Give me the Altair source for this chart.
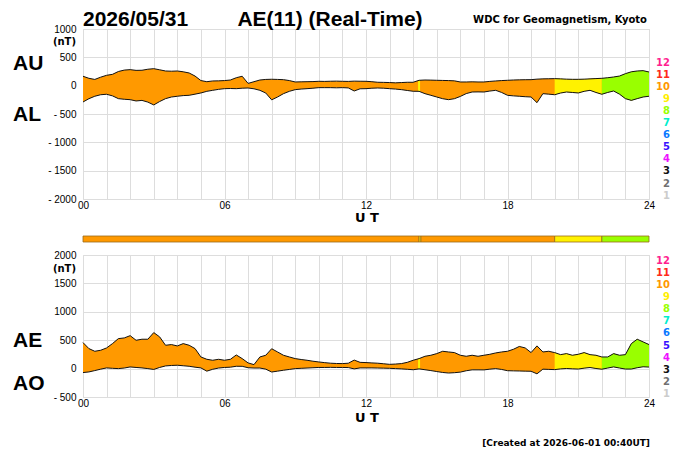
import altair as alt
import pandas as pd

# ---------------- data ----------------
STEP_MIN = 15
minutes = list(range(0, 24 * 60 + 1, STEP_MIN))
hours = [m / 60 for m in minutes]

AU = [166, 130, 110, 150, 183, 200, 250, 275,
      283, 270, 272, 290, 300, 280, 259, 255,
      259, 245, 224, 170, 90, 70, 83, 85,
      90, 100, 140, 166, 40, 70, 100, 110,
      113, 110, 106, 90, 65, 68, 70, 72,
      77, 75, 78, 80, 77, 75, 80, 78,
      77, 70, 60, 58, 55, 50, 55, 60,
      60, 95, 100, 98, 95, 92, 90, 85,
      65, 65, 68, 65, 65, 75, 83, 90,
      95, 100, 103, 105, 106, 115, 120, 122,
      124, 120, 115, 112, 112, 115, 120, 125,
      130, 140, 153, 170, 212, 245, 259, 265,
      241]
AL = [-288, -230, -187, -160, -152, -180, -229, -240,
      -247, -270, -260, -290, -340, -280, -229, -200,
      -187, -175, -170, -150, -129, -100, -82, -65,
      -53, -50, -53, -45, -41, -55, -82, -130,
      -250, -200, -141, -100, -70, -60, -53, -45,
      -35, -35, -35, -38, -35, -40, -94, -55,
      -53, -45, -41, -45, -53, -60, -70, -85,
      -99, -100, -141, -170, -200, -230, -247, -230,
      -190, -140, -112, -110, -112, -95, -82, -120,
      -170, -180, -187, -195, -200, -300, -141, -150,
      -160, -130, -112, -120, -129, -100, -82, -120,
      -152, -120, -94, -150, -229, -260, -229, -200,
      -187]
AE = [458, 352, 305, 323, 364, 440, 528, 540,
      580, 499, 517, 517, 634, 558, 411, 423,
      399, 440, 411, 352, 205, 164, 147, 164,
      147, 164, 240, 176, 100, 70, 205, 235,
      350, 293, 235, 205, 176, 160, 147, 130,
      117, 105, 95, 90, 88, 95, 150, 110,
      106, 100, 95, 85, 75, 80, 88, 110,
      147, 176, 217, 235, 264, 305, 293, 282,
      235, 217, 235, 217, 235, 252, 276, 293,
      305, 340, 390, 364, 282, 400, 293, 305,
      282, 246, 264, 235, 252, 282, 246, 235,
      205, 205, 264, 235, 246, 440, 517, 470,
      423]
AO = [-70, -59, -35, -10, 12, 5, 0, 10,
      29, 20, 12, 0, -15, 20, 47, 55,
      59, 50, 41, 25, 12, -45, -12, 10,
      20, 25, 41, 40, 15, 10, 10, -10,
      -60, -45, -29, -15, 0, 5, 10, 15,
      20, 20, 22, 20, 20, 18, -5, 12,
      12, 12, 10, 8, 5, 0, -5, -12,
      -20, -5, -20, -35, -52, -68, -78, -72,
      -62, -38, -22, -22, -23, -10, 0, -15,
      -37, -40, -42, -45, -47, -92, -10, -14,
      -18, -5, 2, -4, -8, 8, 19, 2,
      -11, 10, 30, 10, -8, -8, 15, 32,
      27]

# number of contributing stations per time segment
SEG_START = [0.0, 14.25, 14.33, 20.0, 22.0]
SEG_END = [14.25, 14.33, 20.0, 22.0, 24.0]
SEG_N = [10, 9, 10, 9, 8]

STATION_LABELS = ["12", "11", "10", "9", "8", "7", "6", "5", "4", "3", "2", "1"]
STATION_COLORS = ["#ff1f8f", "#ff2a1a", "#ff9900", "#ffee00", "#99ff00", "#00eecc",
                  "#0a78ff", "#3a10ff", "#ee10ff", "#111111", "#707070", "#cccccc"]
FILL = {10: "#ff9900", 9: "#fff200", 8: "#99ff00"}

Y_TOP_TICKS = [-2000, -1500, -1000, -500, 0, 500, 1000]
Y_BOT_TICKS = [-500, 0, 500, 1000, 1500, 2000]
HOUR_TICKS = list(range(0, 25))

df = pd.DataFrame({"t": hours, "AU": AU, "AL": AL, "AE": AE, "AO": AO})
seg = pd.DataFrame({"s": SEG_START, "e": SEG_END,
                    "c": [FILL[n] for n in SEG_N]})
ONE = pd.DataFrame({"k": [0]})

TF = "Liberation Sans"
SF = "DejaVu Sans"
W = 566
H_TOP = 170
H_BOT = 142

XLAB = "datum.value % 6 == 0 ? (datum.value < 10 ? '0' + datum.value : '' + datum.value) : ''"
YLAB = "datum.value < 0 ? '- ' + (-datum.value) : '' + datum.value"


def xaxis():
    return alt.Axis(values=HOUR_TICKS, labelExpr=XLAB, title=None, ticks=False,
                    domain=False, grid=True, labelFlush=False, labelOverlap=False,
                    labelPadding=1)


def xenc(field="t"):
    return alt.X(field, type="quantitative",
                 scale=alt.Scale(domain=[0, 24], nice=False, zero=False), axis=xaxis())


def yenc(field, dom, ticks):
    return alt.Y(field, type="quantitative", scale=alt.Scale(domain=dom, nice=False, zero=False),
                 axis=alt.Axis(values=ticks, labelExpr=YLAB, title=None, ticks=False,
                               domain=False, grid=True, labelFlush=False, labelOverlap=False,
                               labelPadding=7))


def txt(s, x, y, size, font, color="black", align="left", weight="bold"):
    return alt.Chart(ONE).mark_text(text=s, align=align, baseline="middle", font=font,
                                    fontSize=size, fontWeight=weight, color=color).encode(
        x=alt.value(x), y=alt.value(y))


def panel(lo, hi, dom, ticks):
    base = alt.Chart(df)
    y = yenc(lo, dom, ticks)
    layers = [
        base.mark_area(color=FILL[10], opacity=1).encode(x=xenc(), y=y, y2=alt.Y2(hi)),
        base.mark_area(color=FILL[9], opacity=1).transform_filter(
            alt.FieldRangePredicate(field="t", range=[20, 22])).encode(x=xenc(), y=y, y2=alt.Y2(hi)),
        base.mark_area(color=FILL[8], opacity=1).transform_filter(
            alt.FieldRangePredicate(field="t", range=[22, 24])).encode(x=xenc(), y=y, y2=alt.Y2(hi)),
        base.mark_rule(color=FILL[9], strokeWidth=2).transform_filter(
            alt.datum.t == 14.25).encode(x=xenc(), y=y, y2=alt.Y2(hi)),
        base.mark_line(color="#111111", strokeWidth=1).encode(x=xenc(), y=yenc(hi, dom, ticks)),
        base.mark_line(color="#111111", strokeWidth=1).encode(x=xenc(), y=y),
    ]
    return layers


# ---------------- top panel ----------------
top_layers = panel("AL", "AU", [-2000, 1000], Y_TOP_TICKS)
top_layers += [
    txt("2026/05/31", 0, -9.5, 21, TF),
    txt("AE(11) (Real-Time)", 247, -9.5, 21, TF, align="center"),
    txt("WDC for Geomagnetism, Kyoto", 564, -9.5, 10, SF, align="right"),
    txt("AU", -70, 35, 21, TF),
    txt("AL", -70, 86, 21, TF),
    txt("(nT)", -7, 12.7, 10, SF, align="right"),
    txt("U T", 284, 189, 13, SF, align="center"),
]
for i, (lab, col) in enumerate(zip(STATION_LABELS, STATION_COLORS)):
    top_layers.append(txt(lab, 587, 34 + 12.05 * i, 10, SF, color=col, align="right"))
top = alt.layer(*top_layers).properties(width=W, height=H_TOP)

# ---------------- bottom panel ----------------
bar = alt.Chart(seg).mark_rect(stroke="#9a6a1a", strokeWidth=0.8).encode(
    x=xenc("s"),
    x2="e:Q",
    y=alt.value(-19), y2=alt.value(-13),
    color=alt.Color("c:N", scale=None))
bot_layers = panel("AO", "AE", [-500, 2000], Y_BOT_TICKS)
bot_layers += [
    bar,
    txt("AE", -70, 86, 21, TF),
    txt("AO", -70, 129, 21, TF),
    txt("(nT)", -7, 13.7, 10, SF, align="right"),
    txt("U T", 284, 162.5, 13, SF, align="center"),
    txt("[Created at 2026-06-01 00:40UT]", 567, 187.5, 9, SF, align="right"),
]
for i, (lab, col) in enumerate(zip(STATION_LABELS, STATION_COLORS)):
    bot_layers.append(txt(lab, 587, 5.8 + 12.1 * i, 10, SF, color=col, align="right"))
bottom = alt.layer(*bot_layers).properties(width=W, height=H_BOT)

chart = alt.vconcat(top, bottom, spacing=56, bounds="flush",
                    padding={"left": 4, "top": 0, "right": 5, "bottom": 5}).configure_view(
    stroke="#999999", strokeWidth=1).configure_axis(
    gridColor="#999999", gridWidth=1, gridOpacity=1, labelFont=SF, labelFontWeight="bold",
    labelFontSize=10, labelColor="black").configure(background="white")

chart.save("out.html", embed_options={"renderer": "svg", "actions": False})
